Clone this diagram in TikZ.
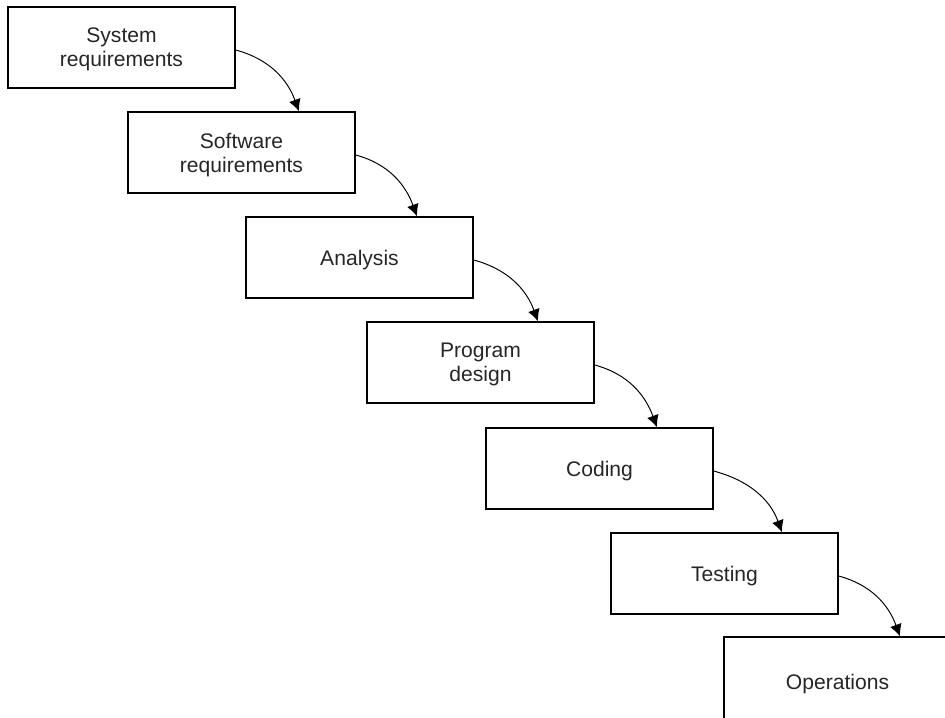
\documentclass[tikz,border=0pt]{standalone}
\usepackage{fontspec}
\setmainfont{Liberation Sans}
\usetikzlibrary{arrows.meta}

\tikzset{%
  every node/.style={
    inner sep=1pt
  },
  phase/.style={
    draw, line width=0.75pt, minimum width=4.54cm, minimum height=1.62cm,
    align=center, text depth=0pt, font=\fontsize{12}{13.7}\selectfont, text=black!85
  },
  flow/.style={
    -{Latex[length=2.4mm,width=2.4mm]}, line width=0.55pt
  }
}

\begin{document}
\begin{tikzpicture}
      \clip (0,0) rectangle (18.9,-14.34);
      \node[phase] at (2.43,-0.95) (0) {System\\requirements};
      \node[phase] at (4.83,-3.05) (1) {Software\\requirements};
      \node[phase] at (7.19,-5.15) (2) {Analysis};
      \node[phase] at (9.61,-7.25) (3) {Program\\design};
      \node[phase] at (11.99,-9.37) (4) {Coding};
      \node[phase] at (14.49,-11.47) (5) {Testing};
      \node[phase, minimum height=1.8cm] at (16.75,-13.64) (6) {Operations};
      \draw[flow] ([yshift=-0.05cm]0.east) to[out=-15,in=110] ([xshift=1.15cm]1.north);
      \draw[flow] ([yshift=-0.05cm]1.east) to[out=-15,in=110] ([xshift=1.15cm]2.north);
      \draw[flow] ([yshift=-0.05cm]2.east) to[out=-15,in=110] ([xshift=1.15cm]3.north);
      \draw[flow] ([yshift=-0.05cm]3.east) to[out=-15,in=110] ([xshift=1.15cm]4.north);
      \draw[flow] ([yshift=-0.05cm]4.east) to[out=-15,in=110] ([xshift=1.15cm]5.north);
      \draw[flow] ([yshift=-0.05cm]5.east) to[out=-15,in=110] ([xshift=1.25cm]6.north);
    \end{tikzpicture}
\end{document}
